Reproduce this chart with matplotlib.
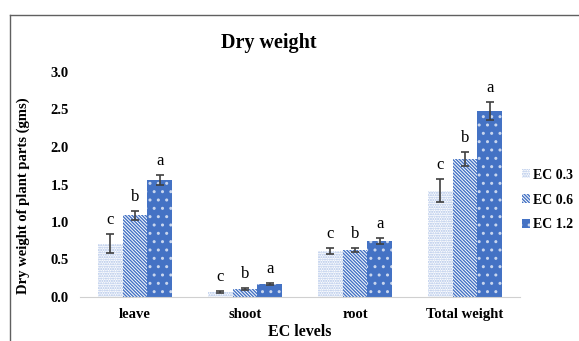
import numpy as np
import matplotlib.pyplot as plt
from matplotlib.lines import Line2D

plt.rcParams['font.family'] = ['Liberation Serif', 'DejaVu Serif']
plt.rcParams['hatch.linewidth'] = 1.0

parts = ['leave', 'shoot', 'root', 'Total weight']
levels = ['EC 0.3', 'EC 0.6', 'EC 1.2']

ec03 = [0.71, 0.07, 0.61, 1.42]
ec06 = [1.09, 0.11, 0.63, 1.84]
ec12 = [1.56, 0.17, 0.75, 2.48]

err03 = [0.125, 0.01, 0.04, 0.15]
err06 = [0.06, 0.01, 0.03, 0.09]
err12 = [0.07, 0.015, 0.04, 0.115]

let03 = ['c', 'c', 'c', 'c']
let06 = ['b', 'b', 'b', 'b']
let12 = ['a', 'a', 'a', 'a']

blue = '#4472C4'

fig = plt.figure(figsize=(5.79, 3.41), dpi=100)
ax = fig.add_axes([80/579, 1-297/341, 440/579, 225/341])

x = np.arange(len(parts))
w = 0.227
styles = [
    dict(facecolor='white', edgecolor='#a9bfe6', hatch='.......', linewidth=0),
    dict(facecolor='white', edgecolor=blue, hatch='\\' * 10, linewidth=0),
    dict(facecolor=blue, edgecolor='#c9d6ee', hatch='..', linewidth=0),
]
series = [(ec03, err03, let03), (ec06, err06, let06), (ec12, err12, let12)]

for i, (vals, errs, lets) in enumerate(series):
    pos = x + (i - 1) * w
    ax.bar(pos, vals, w, label=levels[i], **styles[i])
    ax.errorbar(pos, vals, yerr=errs, fmt='none', ecolor='#404040',
                elinewidth=1.2, capsize=3, capthick=1.2)
    for p, v, e, l in zip(pos, vals, errs, lets):
        ax.text(p, v + e + 0.08, l, ha='center', va='bottom', fontsize=12)

ax.set_xlim(-0.5, 3.5)
ax.set_ylim(0, 3.0)
ax.set_yticks(np.arange(0, 3.01, 0.5))
ax.set_yticklabels([f'{t:.1f}' for t in np.arange(0, 3.01, 0.5)],
                   fontweight='bold', fontsize=10.5)
ax.set_xticks(x)
ax.set_xticklabels(parts, fontweight='bold', fontsize=10.5)
ax.tick_params(length=0, pad=8)
for s in ['top', 'right', 'left']:
    ax.spines[s].set_visible(False)
ax.spines['bottom'].set_color('#d0d0d0')

ax.set_xlabel('EC levels', fontweight='bold', fontsize=11.5, labelpad=2)
ax.set_ylabel('Dry weight of plant parts (gms)', fontweight='bold', fontsize=10.5)
ax.yaxis.set_label_coords(-0.114, 0.449)
fig.text(0.465, 1-43/341, 'Dry weight', ha='center', va='center',
         fontweight='bold', fontsize=14.5)

ax.legend(loc='center left', bbox_to_anchor=(509/579, 1-200/341),
          bbox_transform=fig.transFigure, frameon=False,
          prop={'weight': 'bold', 'size': 10}, handlelength=0.6,
          handleheight=0.6, handletextpad=0.25, labelspacing=0.85)

# outer frame
fig.add_artist(Line2D([10/579, 10/579], [0, 1-15/341], color='#606060', lw=1))
fig.add_artist(Line2D([10/579, 1], [1-15/341, 1-15/341], color='#606060', lw=1))

fig.savefig('out.png', dpi=100)
